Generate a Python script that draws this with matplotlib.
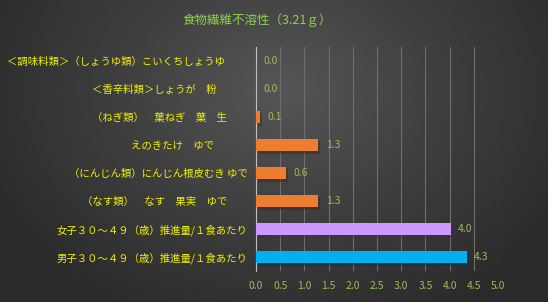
import numpy as np
import matplotlib.pyplot as plt
from matplotlib.colors import LinearSegmentedColormap
import matplotlib.patheffects as pe

plt.rcParams['font.family'] = ['Noto Sans CJK JP', 'DejaVu Sans']

# data (top to bottom); trailing full-width spaces as in the source labels
labels = ['＜調味料類＞（しょうゆ類）こいくちしょうゆ　　 ',
          '＜香辛料類＞しょうが　粉　　　',
          '（ねぎ類）　葉ねぎ　葉　生　　',
          'えのきたけ　ゆで　　　 ',
          '（にんじん類）にんじん根皮むき ゆで',
          '（なす類）　なす　果実　ゆで　　',
          '女子３０～４９（歳）推進量/１食あたり',
          '男子３０～４９（歳）推進量/１食あたり']
values = [0.0, 0.0, 0.08, 1.28, 0.62, 1.28, 4.02, 4.35]
colors = ['#ed7d31'] * 6 + ['#cc99ff', '#00b0f0']
title = '食物繊維不溶性（3.21ｇ）'
xticks = np.arange(0, 5.01, 0.5)

fig = plt.figure(figsize=(5.48, 3.02), dpi=100)

# radial gradient background
bg = fig.add_axes([0, 0, 1, 1])
yy, xx = np.mgrid[0:302, 0:548]
d = np.sqrt(((xx - 280) / 330.0) ** 2 + ((yy - 90) / 260.0) ** 2)
d = np.clip(d, 0, 1)
cmap = LinearSegmentedColormap.from_list('bg', ['#565656', '#3e3e3e', '#2a2a2a'])
bg.imshow(d, cmap=cmap, aspect='auto', vmin=0, vmax=1)
bg.axis('off')

ax = fig.add_axes([256 / 548, 1 - 271 / 302, 242 / 548, 224 / 302])
ax.patch.set_alpha(0)
y = np.arange(len(labels))
bars = ax.barh(y, values, height=0.46, color=colors, zorder=3,
               path_effects=[pe.SimplePatchShadow(offset=(1.5, -1.5), alpha=0.5),
                             pe.Normal()])
ax.set_ylim(len(labels) - 0.5, -0.5)
ax.set_xlim(0, 5.0)
ax.set_xticks(xticks)
ax.set_xticklabels([f'{t:.1f}' for t in xticks], color='#9bbb59', fontsize=7.5)
ax.set_yticks(y)
ax.set_yticklabels(labels, color='#f0f000', fontsize=7.5)
ax.tick_params(axis='both', length=0, pad=6)
ax.tick_params(axis='x', pad=7)
ax.grid(axis='x', color='#6e6e6e', linewidth=0.8, zorder=0)
for s in ['top', 'right', 'bottom']:
    ax.spines[s].set_visible(False)
ax.spines['left'].set_color('#bfbfbf')
ax.spines['left'].set_linewidth(0.8)

for yi, v in zip(y, values):
    ax.text(v + 0.16, yi, f'{v:.1f}', va='center', ha='left',
            color='#9bbb59', fontsize=7.5, zorder=4)

fig.text(257 / 548, 1 - 20 / 302, title, ha='center', va='center',
         color='#92d050', fontsize=9)

fig.savefig('out.png', dpi=100)
